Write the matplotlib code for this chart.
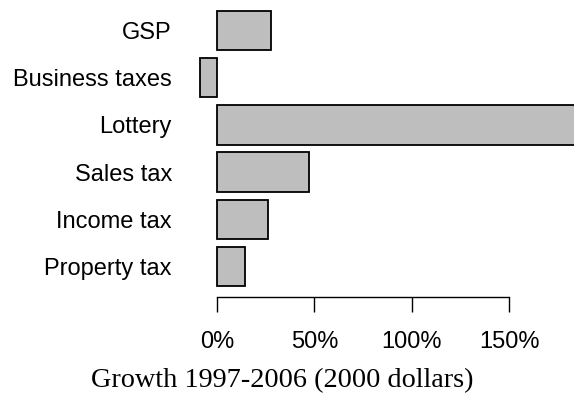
import numpy as np
import matplotlib.pyplot as plt

# growth 1997-2006, percent (bottom to top)
categories = ['Property tax', 'Income tax', 'Sales tax', 'Lottery', 'Business taxes', 'GSP']
growth = [14.5, 26.0, 47.4, 190.0, -8.7, 27.6]
xticks = [0, 50, 100, 150]
xticklabels = ['0%', '50%', '100%', '150%']

W, H = 574, 394
fig = plt.figure(figsize=(W / 100, H / 100), dpi=100)
ax = fig.add_axes([190 / W, (H - 297) / H, (W - 190) / W, 297 / H])

y = np.arange(len(categories))
ax.barh(y, growth, height=0.833, color='#bebebe', edgecolor='black', linewidth=1.3)

ax.set_xlim((190 - 217) / 1.948, (W - 217) / 1.948)
ax.set_ylim(-0.646, 5.646)

for s in ['top', 'right', 'left']:
    ax.spines[s].set_visible(False)
ax.spines['bottom'].set_bounds(0, 150)
ax.spines['bottom'].set_linewidth(1.0)

ax.set_xticks(xticks)
ax.set_xticklabels(xticklabels, family='Liberation Sans', fontsize=17)
ax.tick_params(axis='x', length=11, width=1.0, pad=13.5)
ax.set_yticks(y)
ax.set_yticklabels(categories, family='Liberation Sans', fontsize=17)
ax.tick_params(axis='y', length=0, pad=13)

fig.text(282 / W, 1 - 381 / H, 'Growth 1997-2006 (2000 dollars)', ha='center', va='center',
         family='Liberation Serif', fontsize=20.3)

fig.savefig('out.png', dpi=100)
